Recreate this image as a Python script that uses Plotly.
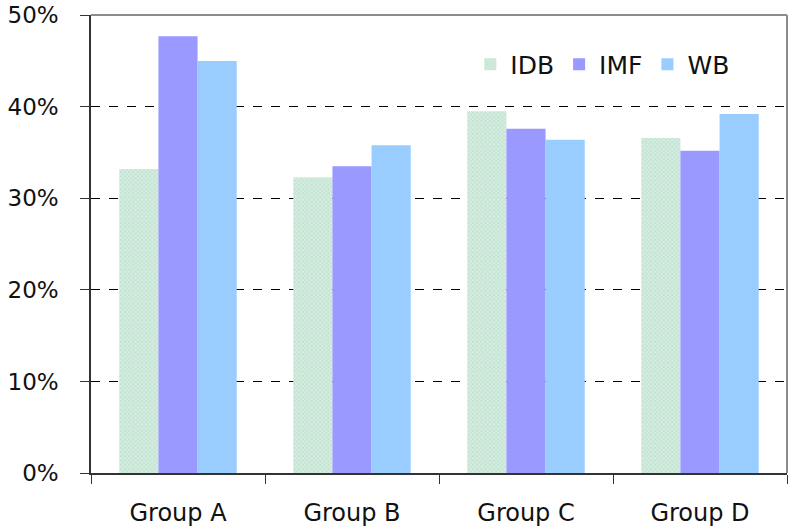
import plotly.graph_objects as go

groups = ["Group A", "Group B", "Group C", "Group D"]
idb = [33.2, 32.3, 39.5, 36.6]
imf = [47.7, 33.5, 37.6, 35.2]
wb = [45.0, 35.8, 36.4, 39.2]
y_ticks = [0, 10, 20, 30, 40, 50]
y_tick_labels = ["0%", "10%", "20%", "30%", "40%", "50%"]

FONT = "DejaVu Sans"

fig = go.Figure()
fig.add_trace(go.Bar(
    name="IDB", x=groups, y=idb,
    marker=dict(color="#cde8da", line=dict(width=0),
                pattern=dict(shape="x", fgcolor="#a6d2bb", bgcolor="#d4ede0",
                             size=3, solidity=0.45)),
))
fig.add_trace(go.Bar(
    name="IMF", x=groups, y=imf,
    marker=dict(color="#9999ff", line=dict(width=0)),
))
fig.add_trace(go.Bar(
    name="WB", x=groups, y=wb,
    marker=dict(color="#99ccff", line=dict(width=0)),
))

# gray frame on top and right of the plot area
fig.add_shape(type="line", xref="paper", yref="paper", x0=0, x1=1, y0=1, y1=1,
              line=dict(color="#8c8c8c", width=2), layer="below")
fig.add_shape(type="line", xref="paper", yref="paper", x0=1, x1=1, y0=0, y1=1,
              line=dict(color="#8c8c8c", width=2), layer="below")

fig.update_layout(
    width=790, height=528,
    margin=dict(l=91, r=3, t=15, b=55, pad=0, autoexpand=False),
    paper_bgcolor="white", plot_bgcolor="white",
    barmode="group", bargap=0.325, bargroupgap=0,
    font=dict(family=FONT, size=24, color="#111111"),
    showlegend=True,
    legend=dict(orientation="h", x=0.545, y=0.892, xanchor="left", yanchor="middle",
                font=dict(family=FONT, size=25, color="#111111"),
                bgcolor="rgba(0,0,0,0)", itemwidth=30, traceorder="normal"),
    xaxis=dict(
        automargin=False,
        showgrid=False, showline=True, linecolor="#333333", linewidth=1.5,
        ticks="outside", tickson="boundaries", ticklen=9, tickcolor="#333333",
        tickfont=dict(family=FONT, size=24, color="#111111"),
        ticklabelstandoff=17,
    ),
    yaxis=dict(
        automargin=False,
        range=[0, 50.02], tickvals=y_ticks, ticktext=y_tick_labels,
        showgrid=True, gridcolor="#000000", griddash="dash", gridwidth=1,
        showline=True, linecolor="#333333", linewidth=1.5,
        ticks="outside", ticklen=9, tickcolor="#333333",
        tickfont=dict(family=FONT, size=23, color="#111111"),
        ticklabelstandoff=17, zeroline=False, ticklabeloverflow="allow",
    ),
)

fig.write_html("out.html")
